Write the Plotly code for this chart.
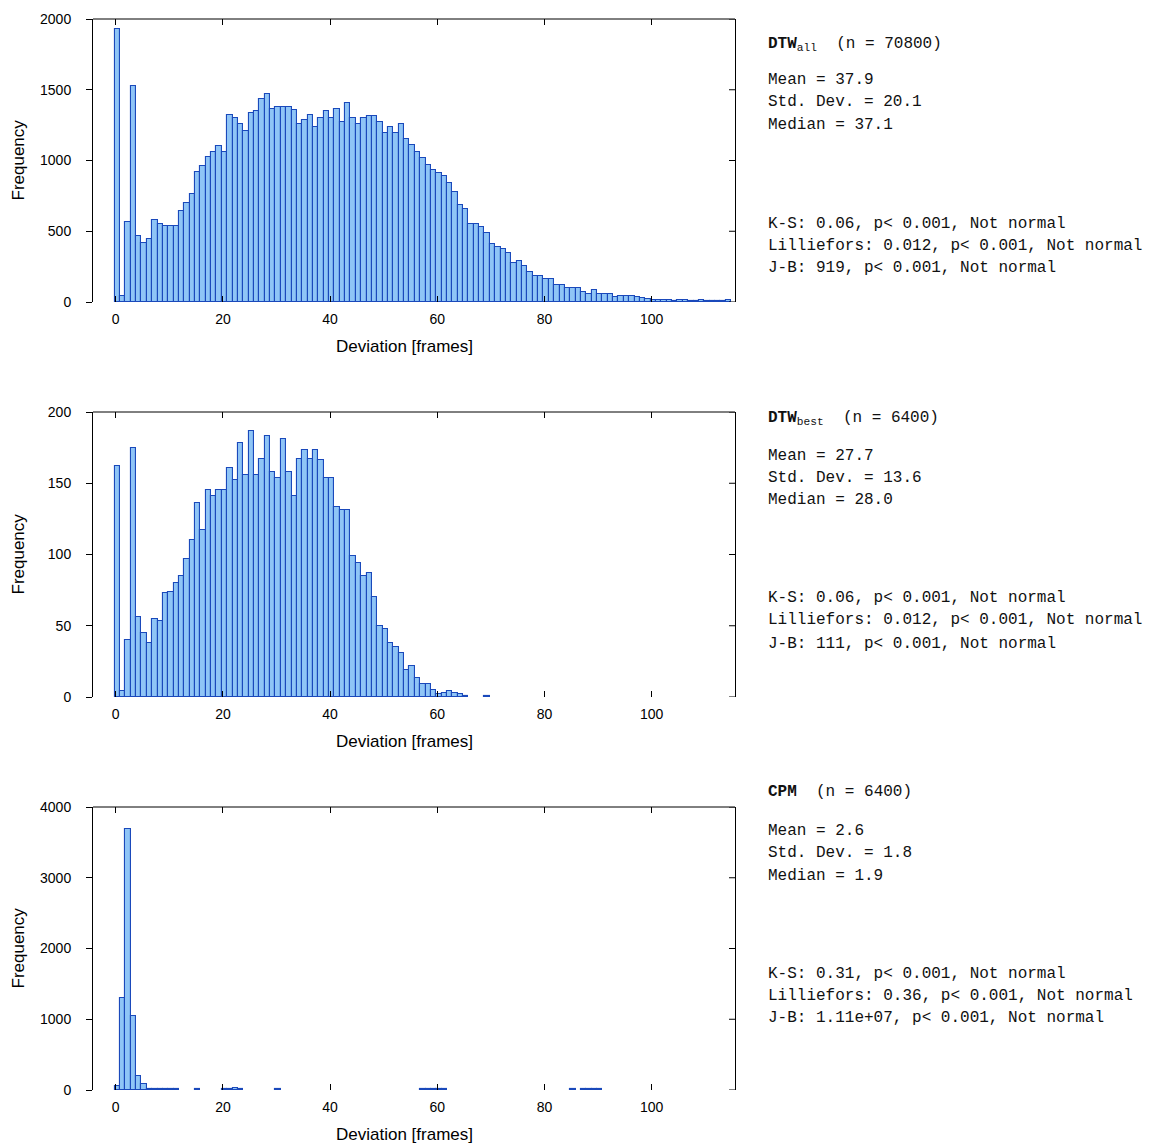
import plotly.graph_objects as go

# ---------------- data ----------------
x_tick_vals = [0, 20, 40, 60, 80, 100]
y_ticks_1 = [0, 500, 1000, 1500, 2000]
y_ticks_2 = [0, 50, 100, 150, 200]
y_ticks_3 = [0, 1000, 2000, 3000, 4000]

# frequency per 1-frame bin, starting at deviation 0
dtw_all_counts = [
    1929, 42, 563, 1530, 469, 418, 446, 577, 549, 535, 535, 535,
    641, 697, 763, 920, 958, 1026, 1063, 1103, 1063,
    1324, 1298, 1260, 1206, 1338, 1352, 1432, 1469, 1366, 1378,
    1378, 1378, 1357, 1260, 1286, 1324, 1235, 1298, 1352, 1298,
    1366, 1272, 1404, 1298, 1260, 1298, 1312, 1312, 1272, 1195,
    1235, 1195, 1255, 1150, 1110, 1060, 1018, 965, 934, 911,
    894, 843, 775, 688, 660, 554, 554, 530, 488, 411,
    390, 373, 345, 277, 293, 253, 214, 185, 185, 160,
    160, 122, 122, 96, 96, 96, 70, 59, 82, 59,
    59, 59, 35, 42, 42, 42, 33, 26, 19, 16,
    16, 16, 16, 7, 16, 16, 7, 7, 16, 7,
    5, 5, 5, 12,
]

dtw_best_counts = [
    162, 4, 40, 175, 56, 45, 38, 55, 53, 73, 74,
    80, 85, 97, 110, 136, 117, 145, 141, 145, 145,
    161, 152, 178, 156, 187, 156, 167, 183, 158, 154,
    181, 158, 141, 167, 173, 167, 173, 166, 154, 154,
    133, 131, 131, 99, 94, 85, 87, 70, 50, 48,
    38, 35, 31, 19, 22, 13, 9, 9, 5, 2,
    3, 4, 3, 2, 1, 0, 0, 0, 1,
]

cpm_counts = [
    60, 1300, 3690, 1045, 200, 90, 15, 15, 15, 15, 15, 15,
    0, 0, 0, 10, 0, 0, 0, 0, 10, 10, 30, 12, 0,
    0, 0, 0, 0, 0, 10, 0, 0, 0, 0, 0, 0, 0, 0, 0,
    0, 0, 0, 0, 0, 0, 0, 0, 0, 0, 0, 0, 0, 0, 0, 0, 0,
    10, 10, 10, 10, 10, 0, 0, 0, 0, 0, 0, 0, 0, 0,
    0, 0, 0, 0, 0, 0, 0, 0, 0, 0, 0, 0, 0, 0,
    10, 0, 10, 10, 10, 10,
]

titles = ["<b>DTW</b><sub>all</sub>  (n = 70800)",
          "<b>DTW</b><sub>best</sub>  (n = 6400)",
          "<b>CPM</b>  (n = 6400)"]
stats = [
    ["Mean = 37.9", "Std. Dev. = 20.1", "Median = 37.1"],
    ["Mean = 27.7", "Std. Dev. = 13.6", "Median = 28.0"],
    ["Mean = 2.6", "Std. Dev. = 1.8", "Median = 1.9"],
]
tests = [
    ["K-S: 0.06, p< 0.001, Not normal",
     "Lilliefors: 0.012, p< 0.001, Not normal",
     "J-B: 919, p< 0.001, Not normal"],
    ["K-S: 0.06, p< 0.001, Not normal",
     "Lilliefors: 0.012, p< 0.001, Not normal",
     "J-B: 111, p< 0.001, Not normal"],
    ["K-S: 0.31, p< 0.001, Not normal",
     "Lilliefors: 0.36, p< 0.001, Not normal",
     "J-B: 1.11e+07, p< 0.001, Not normal"],
]

# ---------------- layout geometry ----------------
W, H = 1156, 1146
ML, MR, MT, MB = 93, 421, 19, 56
PW = W - ML - MR
PH = H - MT - MB

def py(p):
    return 1 - (p - MT) / PH

def px(p):
    return (p - ML) / PW

panel_pix = [(19, 302), (412, 697), (807, 1090)]
y_ticks_all = [y_ticks_1, y_ticks_2, y_ticks_3]
y_ranges = [[0, 2000], [0, 200], [0, 4000]]
series = [dtw_all_counts, dtw_best_counts, cpm_counts]

FILL = "#8fc5f6"
EDGE = "#1a49bb"
TICKFONT = dict(family="Liberation Sans, Arial, sans-serif", size=14, color="black")
TITLEFONT = dict(family="Liberation Sans, Arial, sans-serif", size=17, color="black")
MONO = "Liberation Mono, Courier New, monospace"
TXTFONT = dict(family=MONO, size=16, color="#111111")

fig = go.Figure()
shapes = []
annotations = []

for i, counts in enumerate(series):
    n = i + 1
    xr = f"x{n}" if n > 1 else "x"
    yr = f"y{n}" if n > 1 else "y"
    xs = [k + 0.3 for k in range(len(counts))]
    ys = [c if c > 0 else None for c in counts]
    fig.add_trace(go.Bar(
        x=xs, y=ys, width=1.0,
        marker=dict(color=FILL, line=dict(color=EDGE, width=1.1)),
        xaxis=xr, yaxis=yr,
        showlegend=False, hoverinfo="x+y",
    ))
    top, bot = panel_pix[i]
    dom = [py(bot), py(top)]
    xa = dict(domain=[0, 1], range=[-4.24, 115.54], tickvals=x_tick_vals,
              ticks="inside", ticklen=6, tickcolor="black", showline=False,
              mirror="ticks", zeroline=False, showgrid=False,
              tickfont=TICKFONT, ticklabelstandoff=7, anchor=yr)
    ya = dict(domain=dom, range=y_ranges[i], tickvals=y_ticks_all[i],
              ticks="outside", ticklen=6, tickcolor="black", showline=True,
              linecolor="black", linewidth=1, mirror=True, zeroline=False,
              showgrid=False, tickfont=TICKFONT, ticklabelstandoff=12,
              anchor=xr)
    fig.layout[f"xaxis{n}" if n > 1 else "xaxis"] = xa
    fig.layout[f"yaxis{n}" if n > 1 else "yaxis"] = ya
    # top frame line
    shapes.append(dict(type="line", xref=f"{xr} domain", yref=f"{yr} domain",
                       x0=0, x1=1, y0=1, y1=1, line=dict(color="black", width=1)))
    # inward ticks on right side
    for tv in y_ticks_all[i]:
        shapes.append(dict(type="line", xref=f"{xr} domain", yref=yr,
                           x0=1 - 6 / PW, x1=1, y0=tv, y1=tv,
                           line=dict(color="black", width=1)))
    # axis titles
    annotations.append(dict(text="Deviation [frames]", xref="paper", yref="paper",
                            x=px(404), y=py(bot + 44), showarrow=False,
                            xanchor="center", yanchor="middle", font=TITLEFONT))
    annotations.append(dict(text="Frequency", xref="paper", yref="paper",
                            x=px(18), y=py((top + bot) / 2), showarrow=False,
                            textangle=-90, xanchor="center", yanchor="middle",
                            font=TITLEFONT))

# right-hand text blocks
title_y = [44, 418, 792]
stat_y = [[80, 102, 125], [456, 478, 500], [831, 853, 876]]
test_y = [[224, 246, 268], [598, 620, 644], [974, 996, 1018]]
for i in range(3):
    annotations.append(dict(text=titles[i], xref="paper", yref="paper",
                            x=px(766), y=py(title_y[i]), showarrow=False,
                            xanchor="left", yanchor="middle", font=TXTFONT))
    for s, yy in zip(stats[i], stat_y[i]):
        annotations.append(dict(text=s, xref="paper", yref="paper",
                                x=px(766), y=py(yy), showarrow=False,
                                xanchor="left", yanchor="middle", font=TXTFONT))
    for s, yy in zip(tests[i], test_y[i]):
        annotations.append(dict(text=s, xref="paper", yref="paper",
                                x=px(766), y=py(yy), showarrow=False,
                                xanchor="left", yanchor="middle", font=TXTFONT))

fig.update_layout(
    width=W, height=H,
    margin=dict(l=ML, r=MR, t=MT, b=MB, autoexpand=False),
    paper_bgcolor="white", plot_bgcolor="white",
    bargap=0, barmode="overlay",
    shapes=shapes, annotations=annotations,
)

fig.write_html("out.html")
